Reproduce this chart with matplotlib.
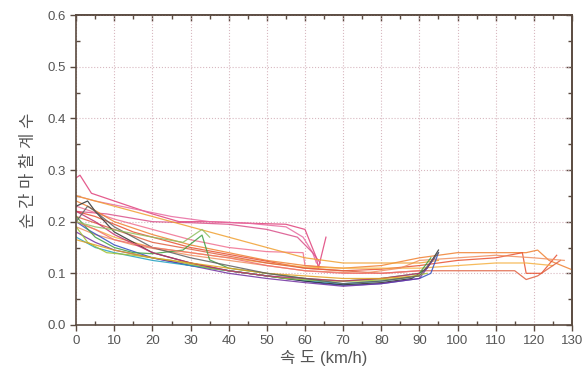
import matplotlib
matplotlib.use("Agg")
import matplotlib.pyplot as plt
from matplotlib.ticker import MultipleLocator

plt.rcParams['font.family'] = ['Liberation Sans', 'Noto Sans CJK KR', 'DejaVu Sans']

# speed (km/h) / friction coefficient curves
# upper pink group (ends near 60-65 km/h)
p1_x = [0, 1, 4, 10, 20, 27, 35, 45, 55, 60, 63, 63.5, 65.5]
p1_y = [0.285, 0.29, 0.255, 0.24, 0.215, 0.2, 0.2, 0.197, 0.195, 0.185, 0.13, 0.11, 0.17]
p2_x = [0, 5, 15, 25, 35, 45, 55, 59.5, 62, 63]
p2_y = [0.25, 0.24, 0.225, 0.21, 0.2, 0.197, 0.19, 0.17, 0.14, 0.12]
p3_x = [0, 8, 20, 30, 40, 50, 58, 62, 64]
p3_y = [0.22, 0.215, 0.2, 0.198, 0.195, 0.185, 0.17, 0.14, 0.12]
p4_x = [0, 10, 20, 30, 40, 50, 59.5, 60, 64]
p4_y = [0.23, 0.205, 0.185, 0.165, 0.15, 0.142, 0.14, 0.115, 0.112]

# orange / red group running out to 130 km/h
o1_x = [0, 3, 10, 20, 30, 40, 50, 60, 70, 80, 90, 95, 100, 110, 118, 121, 124, 130]
o1_y = [0.24, 0.23, 0.2, 0.175, 0.155, 0.14, 0.125, 0.115, 0.11, 0.115, 0.13, 0.135, 0.14, 0.14, 0.14, 0.145, 0.125, 0.107]
o2_x = [0, 5, 15, 30, 45, 60, 70, 80, 90, 100, 110, 117, 118, 122, 126]
o2_y = [0.22, 0.21, 0.18, 0.15, 0.13, 0.11, 0.105, 0.108, 0.115, 0.125, 0.13, 0.14, 0.1, 0.1, 0.135]
o3_x = [0, 10, 20, 30, 40, 50, 60, 70, 80, 90, 100, 110, 118, 125]
o3_y = [0.2, 0.17, 0.15, 0.14, 0.13, 0.12, 0.112, 0.11, 0.11, 0.11, 0.115, 0.12, 0.12, 0.115]
o4_x = [0, 8, 20, 35, 50, 60, 70, 80, 90, 100, 110, 115, 118, 121, 127]
o4_y = [0.21, 0.19, 0.16, 0.14, 0.12, 0.11, 0.105, 0.1, 0.105, 0.105, 0.105, 0.105, 0.088, 0.095, 0.125]
o5_x = [0, 5, 15, 30, 45, 60, 75, 85, 90, 100, 110, 120, 128]
o5_y = [0.19, 0.175, 0.155, 0.135, 0.12, 0.105, 0.1, 0.11, 0.125, 0.13, 0.135, 0.13, 0.125]
o6_x = [0, 5, 10, 20, 30, 40, 50, 60, 70, 80, 90, 95]
o6_y = [0.25, 0.24, 0.23, 0.21, 0.19, 0.17, 0.15, 0.13, 0.12, 0.12, 0.12, 0.125]

# lower bundle (ends near 95 km/h, minimum near 70 km/h)
l1_x = [0, 3, 10, 20, 30, 40, 50, 60, 65, 70, 75, 80, 85, 90, 93, 95]
l1_y = [0.2, 0.185, 0.155, 0.13, 0.115, 0.105, 0.095, 0.085, 0.08, 0.077, 0.078, 0.08, 0.085, 0.09, 0.1, 0.14]
l2_x = [0, 3, 5, 10, 20, 30, 40, 50, 60, 70, 80, 88, 92, 95]
l2_y = [0.23, 0.24, 0.22, 0.18, 0.14, 0.12, 0.105, 0.095, 0.085, 0.078, 0.082, 0.09, 0.11, 0.145]
l3_x = [0, 5, 10, 20, 30, 40, 50, 60, 70, 80, 90, 94]
l3_y = [0.18, 0.16, 0.145, 0.13, 0.115, 0.1, 0.09, 0.082, 0.075, 0.08, 0.09, 0.13]
l4_x = [0, 5, 10, 15, 20, 28, 33, 35, 40, 50, 60, 70, 80, 90, 93]
l4_y = [0.21, 0.17, 0.15, 0.14, 0.138, 0.145, 0.174, 0.126, 0.11, 0.1, 0.09, 0.085, 0.09, 0.1, 0.13]
l5_x = [0, 5, 10, 20, 30, 40, 50, 60, 70, 80, 90]
l5_y = [0.17, 0.15, 0.14, 0.125, 0.115, 0.105, 0.095, 0.087, 0.08, 0.085, 0.095]
l6_x = [0, 3, 8, 15, 25, 35, 45, 55, 65, 75, 85, 92]
l6_y = [0.19, 0.16, 0.14, 0.135, 0.125, 0.11, 0.1, 0.09, 0.085, 0.085, 0.09, 0.1]
l7_x = [0, 5, 10, 20, 30, 40, 50, 60, 70, 80, 90]
l7_y = [0.22, 0.2, 0.175, 0.14, 0.12, 0.105, 0.095, 0.09, 0.085, 0.09, 0.1]
l8_x = [0, 5, 10, 20, 30, 40, 50, 60, 70, 80, 90]
l8_y = [0.165, 0.155, 0.145, 0.13, 0.12, 0.11, 0.1, 0.095, 0.09, 0.09, 0.095]
l9_x = [0, 3, 5, 10, 15, 20, 30, 40, 50, 60, 70, 80, 90, 95]
l9_y = [0.2, 0.23, 0.22, 0.19, 0.17, 0.15, 0.13, 0.115, 0.1, 0.09, 0.08, 0.085, 0.095, 0.14]
l10_x = [0, 5, 10, 20, 30, 40, 50, 60, 70, 80, 90]
l10_y = [0.2, 0.185, 0.165, 0.15, 0.14, 0.13, 0.115, 0.105, 0.1, 0.1, 0.105]
l11_x = [0, 5, 10, 20, 28, 33, 35]
l11_y = [0.2, 0.19, 0.184, 0.17, 0.16, 0.185, 0.17]

series = [
    (p1_x, p1_y, '#e0407a'), (p2_x, p2_y, '#e86aa0'), (p3_x, p3_y, '#d9508a'), (p4_x, p4_y, '#f07090'),
    (o1_x, o1_y, '#f08030'), (o2_x, o2_y, '#e85030'), (o3_x, o3_y, '#f5b040'), (o4_x, o4_y, '#e06040'),
    (o5_x, o5_y, '#f09060'), (o6_x, o6_y, '#f0a030'),
    (l1_x, l1_y, '#3050c0'), (l2_x, l2_y, '#303030'), (l3_x, l3_y, '#7030a0'), (l4_x, l4_y, '#40a040'),
    (l5_x, l5_y, '#20a0c0'), (l6_x, l6_y, '#a0c030'), (l7_x, l7_y, '#c03070'), (l8_x, l8_y, '#e0a020'),
    (l9_x, l9_y, '#606060'), (l10_x, l10_y, '#f07070'), (l11_x, l11_y, '#90c060'),
]

fig = plt.figure(figsize=(5.86, 3.77), dpi=100)
ax = fig.add_axes([0.13, 0.138, 0.846, 0.822])

for xs, ys, c in series:
    ax.plot(xs, ys, color=c, lw=0.9, alpha=0.85)

ax.set_xlim(0, 130)
ax.set_ylim(0, 0.6)
ax.xaxis.set_major_locator(MultipleLocator(10))
ax.xaxis.set_minor_locator(MultipleLocator(5))
ax.yaxis.set_major_locator(MultipleLocator(0.1))
ax.yaxis.set_minor_locator(MultipleLocator(0.05))
ax.yaxis.set_major_formatter(plt.FormatStrFormatter('%.1f'))

ax.grid(True, which='major', color='#d8b8c0', ls=':', lw=0.8)
for s in ax.spines.values():
    s.set_color('#5a4a40')
    s.set_linewidth(1.2)
ax.tick_params(which='major', direction='out', length=4, width=1, color='#5a4a40',
               labelsize=9.5, labelcolor='#555555')
ax.tick_params(which='minor', direction='in', length=3, width=1, color='#5a4a40')

# inward ticks on top and right
top = ax.secondary_xaxis('top')
top.xaxis.set_major_locator(MultipleLocator(10))
top.xaxis.set_minor_locator(MultipleLocator(5))
top.tick_params(which='major', direction='in', length=4, width=1, color='#5a4a40', labeltop=False)
top.tick_params(which='minor', direction='in', length=3, width=1, color='#5a4a40')
right = ax.secondary_yaxis('right')
right.yaxis.set_major_locator(MultipleLocator(0.1))
right.yaxis.set_minor_locator(MultipleLocator(0.05))
right.tick_params(which='major', direction='in', length=4, width=1, color='#5a4a40', labelright=False)
right.tick_params(which='minor', direction='in', length=3, width=1, color='#5a4a40')
for sec in (top, right):
    for s in sec.spines.values():
        s.set_color('#5a4a40')
        s.set_linewidth(1.2)

ax.set_xlabel('속 도 (km/h)', fontsize=12, color='#555555', labelpad=2)
ax.set_ylabel('순 간 마 찰 계 수', fontsize=12, color='#555555', labelpad=8)

fig.savefig('out.png', dpi=100)
